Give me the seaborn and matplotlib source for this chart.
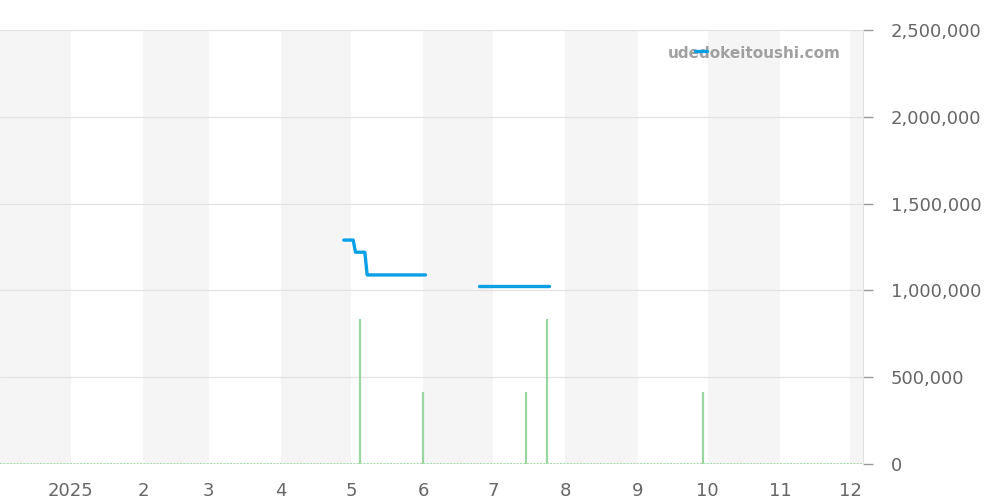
import matplotlib
matplotlib.use("Agg")
import matplotlib.pyplot as plt
import matplotlib.transforms as mtransforms
import seaborn as sns
import pandas as pd

# price line (two segments, gap between)
price_dates_1 = ["2025-04-28", "2025-05-02", "2025-05-03", "2025-05-07", "2025-05-08", "2025-06-02"]
price_vals_1 = [1290000, 1290000, 1220000, 1220000, 1089000, 1089000]
price_dates_2 = ["2025-06-25", "2025-07-25"]
price_vals_2 = [1028000, 1028000]

# listings count (green bars)
bar_dates = ["2025-05-05", "2025-06-01", "2025-07-15", "2025-07-24", "2025-09-29"]
bar_counts = [2, 1, 1, 2, 1]

# shaded months
shade_months = ["2024-12-01", "2025-02-01", "2025-04-01", "2025-06-01",
                "2025-08-01", "2025-10-01", "2025-12-01"]

tick_dates = ["2025-01-01", "2025-02-01", "2025-03-01", "2025-04-01", "2025-05-01", "2025-06-01",
              "2025-07-01", "2025-08-01", "2025-09-01", "2025-10-01", "2025-11-01", "2025-12-01"]
tick_labels = ["2025", "2", "3", "4", "5", "6", "7", "8", "9", "10", "11", "12"]
y_ticks = [0, 500000, 1000000, 1500000, 2000000, 2500000]

sns.set_style("white")
plt.rcParams['font.family'] = ['DejaVu Sans']

fig = plt.figure(figsize=(10, 5), dpi=100)
ax = fig.add_axes([0.0, 0.072, 0.863, 0.868])

x0 = pd.Timestamp("2024-12-01 14:00")
x1 = pd.Timestamp("2025-12-06 14:00")

# hidden twin axis: shading, grid, bars (behind the price axis)
ax2 = ax.twinx()
ax2.set_zorder(0)
ax.set_zorder(1)
ax.patch.set_visible(False)

for m in shade_months:
    s = pd.Timestamp(m)
    e = s + pd.offsets.MonthBegin(1)
    ax2.axvspan(s, min(e, x1), color="#f5f5f5", lw=0, zorder=0)

# grid lines follow the price axis but sit under the bars
tr = mtransforms.blended_transform_factory(ax2.transAxes, ax.transData)
ax2.hlines(y_ticks[1:], 0, 1, transform=tr, color="#e2e2e2", lw=0.9, zorder=1)

ax2.vlines(pd.to_datetime(bar_dates), 0, bar_counts, color="#9bd6a0", lw=1.6, zorder=2)
ax2.axhline(0, color="#a8dcac", lw=1.5, ls=(0, (1, 0.6)), zorder=2)
ax2.set_ylim(0, 6)
ax2.set_yticks([])
for sp in ax2.spines.values():
    sp.set_visible(False)

d1 = pd.DataFrame({"date": pd.to_datetime(price_dates_1), "price": price_vals_1})
d2 = pd.DataFrame({"date": pd.to_datetime(price_dates_2), "price": price_vals_2})
sns.lineplot(data=d1, x="date", y="price", ax=ax, color="#0aa0e6", lw=2.4, zorder=3)
sns.lineplot(data=d2, x="date", y="price", ax=ax, color="#0aa0e6", lw=2.4, zorder=3)

ax.set_xlim(x0, x1)
ax2.set_xlim(x0, x1)
ax.set_ylim(0, 2500000)
ax.yaxis.tick_right()
ax.set_yticks(y_ticks)
ax.set_yticklabels([f"{v:,}" for v in y_ticks])
ax.set_xticks(pd.to_datetime(tick_dates))
ax.set_xticklabels(tick_labels)
ax.tick_params(axis="both", colors="#999999", labelcolor="#666666", labelsize=13,
               length=7, width=1)
ax.tick_params(axis="y", pad=13)
ax.tick_params(axis="x", pad=6)
ax.set_xlabel("")
ax.set_ylabel("")
for name, sp in ax.spines.items():
    sp.set_visible(False)
ax.spines["right"].set_visible(True)
ax.spines["right"].set_color("#e2e2e2")

# watermark / legend
leg_line = ax.get_lines()[-1]
leg = ax.legend([leg_line], [""], loc="upper left", bbox_to_anchor=(0.797, 0.982),
                frameon=False, handlelength=0.9, borderpad=0, handletextpad=0)
ax.text(0.974, 0.945, "udedokeitoushi.com", transform=ax.transAxes, ha="right", va="center",
        fontsize=11, fontweight="bold", color="#a0a0a0", zorder=5)

fig.savefig("out.png", dpi=100)
